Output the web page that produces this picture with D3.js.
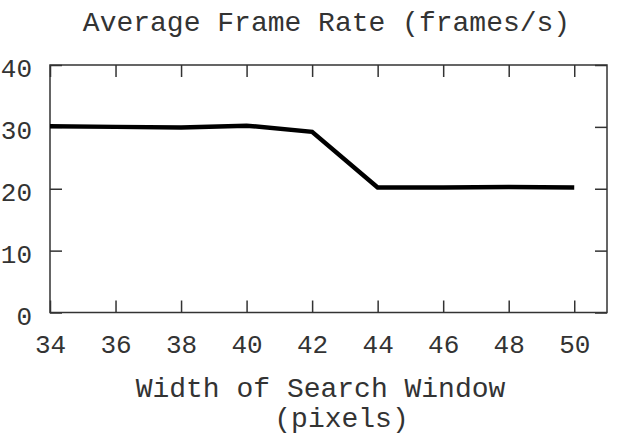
<!DOCTYPE html>
<html>
<head>
<meta charset="utf-8">
<script src="https://cdn.jsdelivr.net/npm/d3@7"></script>
<style>
  body { margin: 0; background: #fff; }
  text { font-family: "Liberation Mono", "Courier New", monospace; fill: #333; }
</style>
</head>
<body>
<div id="chart"></div>
<script>
  // chart values
  var widths = [34, 36, 38, 40, 42, 44, 46, 48, 50];
  var frameRate = [30.1, 30.0, 29.9, 30.2, 29.2, 20.2, 20.2, 20.3, 20.2];
  var xTicks = [34, 36, 38, 40, 42, 44, 46, 48, 50];
  var yTicks = [0, 10, 20, 30, 40];

  var W = 619, H = 438;
  var margin = {top: 65, right: 12, bottom: 125.5, left: 50};
  var width = W - margin.left - margin.right;
  var height = H - margin.top - margin.bottom;

  var svg = d3.select("#chart").append("svg")
    .attr("width", W)
    .attr("height", H);

  var g = svg.append("g")
    .attr("transform", "translate(" + margin.left + "," + margin.top + ")");

  var x = d3.scaleLinear().domain([34, 51]).range([0, width]);
  var y = d3.scaleLinear().domain([0, 40]).range([height, 0]);

  function styleAxis(sel) {
    sel.select(".domain").remove();
    sel.selectAll(".tick line").attr("stroke", "#333").attr("stroke-width", 1.5);
    sel.selectAll("text").style("font-size", "26px").attr("fill", "#333");
  }

  // ticks pointing inward on all four sides
  g.append("g")
    .attr("transform", "translate(0," + height + ")")
    .call(d3.axisBottom(x).tickValues(xTicks).tickSizeInner(-12).tickSizeOuter(0).tickPadding(22))
    .call(styleAxis);

  g.append("g")
    .call(d3.axisTop(x).tickValues(xTicks).tickSizeInner(-12).tickSizeOuter(0).tickFormat(""))
    .call(styleAxis);

  g.append("g")
    .call(d3.axisLeft(y).tickValues(yTicks).tickSizeInner(-12).tickSizeOuter(0).tickPadding(18))
    .call(styleAxis)
    .selectAll("text").attr("dy", "0.45em");

  g.append("g")
    .attr("transform", "translate(" + width + ",0)")
    .call(d3.axisRight(y).tickValues(yTicks).tickSizeInner(-12).tickSizeOuter(0).tickFormat(""))
    .call(styleAxis);

  // frame
  g.append("rect")
    .attr("width", width)
    .attr("height", height)
    .attr("fill", "none")
    .attr("stroke", "#333")
    .attr("stroke-width", 1.5);

  var line = d3.line()
    .x(function (d, i) { return x(widths[i]); })
    .y(function (d) { return y(d); });

  g.append("path")
    .datum(frameRate)
    .attr("fill", "none")
    .attr("stroke", "#000")
    .attr("stroke-width", 4.5)
    .attr("d", line);

  // titles
  svg.append("text")
    .attr("x", 326.5)
    .attr("y", 31)
    .attr("text-anchor", "middle")
    .style("font-size", "28px")
    .text("Average Frame Rate (frames/s)");

  svg.append("text")
    .attr("x", 320.5)
    .attr("y", 397)
    .attr("text-anchor", "middle")
    .style("font-size", "28px")
    .text("Width of Search Window");

  svg.append("text")
    .attr("x", 341.5)
    .attr("y", 427)
    .attr("text-anchor", "middle")
    .style("font-size", "28px")
    .text("(pixels)");
</script>
</body>
</html>
